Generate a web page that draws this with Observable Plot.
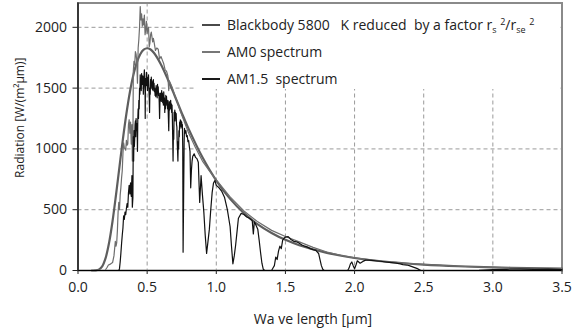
<!DOCTYPE html>
<html>
<head>
<meta charset="utf-8">
<script src="https://cdn.jsdelivr.net/npm/d3@7"></script>
<script src="https://cdn.jsdelivr.net/npm/@observablehq/plot@0.6"></script>
<style>
  body { margin: 0; background: #fff; font-family: "Open Sans", sans-serif; }
  #wrap { position: relative; width: 577px; height: 336px; overflow: hidden; }
  #legend { position: absolute; left: 195px; top: 4px; width: 364px; height: 85px; background: #fff; color: #222; font-size: 14px; }
  .row { position: absolute; left: 0; height: 20px; line-height: 20px; white-space: pre; }
  .swatch { position: absolute; left: 7px; width: 18px; }
  .lab { position: absolute; left: 32px; top: 0; }
  sub, sup { font-size: 9px; line-height: 0; }
  sub { vertical-align: -3px; }
  sup { vertical-align: 5px; }
</style>
</head>
<body>
<div id="wrap"><div id="legend"></div></div>
<script>
// ---- Data ----
// Blackbody 5800 K reduced by (rs/rse)^2, W/(m2 µm)
const bbWl  = [0.10, 0.125, 0.15, 0.175, 0.20, 0.225, 0.25, 0.275, 0.30, 0.325, 0.35, 0.375, 0.40, 0.425, 0.45, 0.475, 0.50, 0.525, 0.55, 0.60, 0.65, 0.70, 0.75, 0.80, 0.90, 1.0, 1.1, 1.2, 1.3, 1.4, 1.5, 1.6, 1.8, 2.0, 2.25, 2.5, 2.75, 3.0, 3.25, 3.5];
const bbVal = [0, 0.6, 7, 34.5, 104, 229, 407, 623, 855, 1083, 1289, 1466, 1606, 1710, 1779, 1817, 1828, 1818, 1789, 1695, 1571, 1435, 1297, 1165, 931, 740, 589, 472, 380, 309, 252, 208, 145, 103, 70, 49, 35, 26, 19.5, 15];

// AM0 spectrum
const am0Wl  = [0.20, 0.21, 0.22, 0.23, 0.24, 0.25, 0.26, 0.27, 0.275, 0.28, 0.285, 0.29, 0.295, 0.30, 0.305, 0.31, 0.315, 0.32, 0.325, 0.33, 0.335, 0.34, 0.345, 0.35, 0.355, 0.36, 0.365, 0.37, 0.375, 0.38, 0.385, 0.39, 0.393, 0.397, 0.40, 0.405, 0.41, 0.415, 0.42, 0.425, 0.43, 0.435, 0.44, 0.445, 0.45, 0.455, 0.46, 0.465, 0.47, 0.475, 0.48, 0.485, 0.49, 0.495, 0.50, 0.505, 0.51, 0.515, 0.52, 0.525, 0.53, 0.535, 0.54, 0.545, 0.55, 0.56, 0.57, 0.58, 0.59, 0.60, 0.61, 0.62, 0.63, 0.64, 0.65, 0.656, 0.66, 0.68, 0.70, 0.72, 0.74, 0.76, 0.78, 0.80, 0.85, 0.90, 0.95, 1.00, 1.10, 1.20, 1.30, 1.40, 1.50, 1.60, 1.70, 1.80, 1.90, 2.00, 2.20, 2.40, 2.60, 2.80, 3.00, 3.20, 3.50];
const am0Val = [8, 25, 45, 50, 58, 65, 120, 240, 200, 230, 330, 480, 560, 500, 620, 680, 760, 820, 960, 1050, 1010, 1000, 990, 1070, 1030, 1040, 1200, 1240, 1130, 1220, 1040, 1200, 900, 1000, 1640, 1720, 1690, 1800, 1780, 1720, 1540, 1830, 1900, 2000, 2170, 2060, 2110, 2010, 2070, 2020, 2100, 1940, 1980, 2050, 1950, 1990, 2000, 1840, 1870, 1940, 1960, 1920, 1880, 1910, 1880, 1810, 1830, 1820, 1740, 1760, 1730, 1700, 1650, 1640, 1600, 1480, 1560, 1510, 1440, 1380, 1310, 1250, 1190, 1130, 1010, 900, 820, 745, 605, 490, 400, 330, 280, 235, 190, 152, 125, 104, 75, 56, 43, 33, 26, 20, 15];

// AM1.5 spectrum
const am15Wl  = [0.295, 0.300, 0.305, 0.310, 0.315, 0.320, 0.325, 0.330, 0.335, 0.340, 0.345, 0.350, 0.355, 0.360, 0.365, 0.370, 0.375, 0.380, 0.385, 0.390, 0.393, 0.397,
  0.400, 0.4025, 0.405, 0.4075, 0.410, 0.4125, 0.415, 0.4175, 0.420, 0.4225, 0.425, 0.4275, 0.430, 0.4325, 0.435, 0.4375, 0.440, 0.4425, 0.445, 0.4475,
  0.450, 0.4525, 0.455, 0.4575, 0.460, 0.4625, 0.465, 0.4675, 0.470, 0.4725, 0.475, 0.4775, 0.480, 0.4825, 0.485, 0.4861, 0.4875, 0.490, 0.4925, 0.495, 0.4975,
  0.500, 0.5025, 0.505, 0.5075, 0.510, 0.5125, 0.515, 0.5175, 0.520, 0.5225, 0.525, 0.5275, 0.530, 0.5325, 0.535, 0.5375, 0.540, 0.5425, 0.545, 0.5475,
  0.550, 0.5525, 0.555, 0.5575, 0.560, 0.5625, 0.565, 0.5675, 0.570, 0.5725, 0.575, 0.5775, 0.580, 0.5825, 0.585, 0.5875, 0.590, 0.5925, 0.595, 0.5975,
  0.600, 0.6025, 0.605, 0.6075, 0.610, 0.6125, 0.615, 0.6175, 0.620, 0.6225, 0.625, 0.6275, 0.630, 0.6325, 0.635, 0.6375, 0.640, 0.6425, 0.645, 0.6475,
  0.650, 0.6525, 0.6563, 0.660, 0.6625, 0.665, 0.6675, 0.670, 0.6725, 0.675, 0.6775, 0.680, 0.6825, 0.6875, 0.690, 0.6925, 0.695, 0.6975,
  0.700, 0.7025, 0.705, 0.7075, 0.710, 0.7125, 0.715, 0.7175, 0.720, 0.7225, 0.725, 0.7275, 0.730, 0.7325, 0.735, 0.7375, 0.740, 0.7425, 0.745, 0.7475,
  0.750, 0.7525, 0.755, 0.7575, 0.760, 0.7625, 0.765, 0.7675, 0.770, 0.775, 0.780, 0.785, 0.790, 0.795, 0.800, 0.805, 0.810, 0.815, 0.820, 0.825, 0.830, 0.840, 0.850, 0.860, 0.870, 0.880, 0.890, 0.900, 0.910, 0.920, 0.930, 0.940, 0.950, 0.960, 0.970, 0.980, 0.990, 1.000, 1.020, 1.040, 1.060, 1.080, 1.100, 1.110, 1.120, 1.130, 1.140, 1.150, 1.160, 1.180, 1.200, 1.220, 1.240, 1.260, 1.268, 1.275, 1.280, 1.300, 1.310, 1.320, 1.330, 1.340, 1.350, 1.400, 1.410, 1.420, 1.430, 1.440, 1.450, 1.460, 1.470, 1.480, 1.490, 1.500, 1.520, 1.540, 1.560, 1.580, 1.600, 1.620, 1.640, 1.660, 1.680, 1.700, 1.720, 1.740, 1.750, 1.760, 1.770, 1.780, 1.950, 1.960, 1.970, 1.980, 1.990, 2.000, 2.010, 2.020, 2.030, 2.040, 2.060, 2.080, 2.100, 2.150, 2.200, 2.250, 2.300, 2.330, 2.350, 2.380, 2.400, 2.420, 2.450, 2.470, 2.480, 2.500, 2.900, 3.000, 3.100, 3.200, 3.300, 3.400, 3.500];
const am15Val = [0, 15, 70, 140, 220, 290, 350, 450, 420, 480, 460, 510, 550, 520, 640, 700, 630, 720, 610, 780, 520, 600,
  1100, 900, 1150, 1020, 1080, 1200, 1230, 1100, 1250, 1150, 1210, 1180, 980, 1250, 1330, 1250, 1400, 1330, 1500, 1450,
  1610, 1500, 1560, 1480, 1620, 1530, 1540, 1600, 1590, 1450, 1520, 1600, 1650, 1560, 1480, 1250, 1500, 1580, 1520, 1630, 1540,
  1560, 1480, 1590, 1530, 1610, 1500, 1420, 1300, 1500, 1450, 1570, 1500, 1590, 1530, 1560, 1490, 1520, 1480, 1570, 1500,
  1540, 1470, 1500, 1440, 1470, 1430, 1520, 1450, 1490, 1420, 1530, 1460, 1510, 1440, 1460, 1380, 1250, 1380, 1460, 1400,
  1450, 1390, 1480, 1410, 1460, 1380, 1430, 1360, 1470, 1400, 1420, 1300, 1400, 1330, 1440, 1380, 1430, 1360, 1390, 1330,
  1400, 1300, 1150, 1390, 1320, 1380, 1330, 1400, 1340, 1370, 1300, 1360, 1250, 900, 1150, 1080, 1300, 1230,
  1320, 1250, 1300, 1230, 1290, 1200, 1180, 1050, 980, 900, 1060, 1000, 1150, 1100, 1220, 1170, 1240, 1190, 1230, 1180,
  1220, 1170, 1200, 1000, 150, 450, 760, 1050, 1170, 1130, 1150, 1100, 1110, 1060, 1070, 1020, 980, 680, 820, 900, 940, 960, 930, 920, 890, 560, 780, 620, 480, 290, 140, 240, 340, 500, 640, 720, 740, 700, 680, 650, 600, 500, 360, 200, 55, 120, 210, 320, 430, 470, 460, 440, 430, 410, 300, 400, 390, 340, 250, 150, 60, 10, 0, 0, 20, 40, 110, 90, 160, 200, 180, 250, 265, 275, 278, 255, 240, 236, 225, 210, 200, 192, 180, 172, 165, 140, 90, 40, 10, 0, 0, 20, 55, 70, 40, 15, 45, 80, 70, 60, 75, 85, 86, 80, 74, 67, 60, 55, 48, 45, 38, 30, 18, 5, 0, 0, 2, 8, 10, 12, 9, 11, 8];

const xTicks = [0, 0.5, 1.0, 1.5, 2.0, 2.5, 3.0, 3.5];
const yTicks = [0, 500, 1000, 1500, 2000];
const xLabel = "Wa ve length [µm]";
const yLabel = "Radiation [W/(m²µm)]";

const legendLabels = [
  "Blackbody 5800   K reduced  by a factor r<sub>s</sub> <sup>2</sup>/r<sub>se</sub> <sup>2</sup>",
  "AM0 spectrum",
  "AM1.5  spectrum"
];
const legendColors = ["#4a4a4a", "#777777", "#1a1a1a"];
const legendWidths = [2.6, 1.2, 1.2];

// ---- Build tables ----
const bb = bbWl.map((w, i) => ({w, v: bbVal[i]}));
const am0 = am0Wl.map((w, i) => ({w, v: am0Val[i]}));
const am15 = am15Wl.map((w, i) => ({w, v: am15Val[i]}));

const grid = {stroke: "#9a9a9a", strokeOpacity: 1, strokeDasharray: "4,3", strokeWidth: 1};

const chart = Plot.plot({
  width: 577,
  height: 336,
  marginLeft: 77.5,
  marginRight: 15.5,
  marginTop: 2.5,
  marginBottom: 66,
  style: {fontFamily: "'Open Sans', sans-serif", fontSize: "14px", color: "#222", background: "#fff", overflow: "visible"},
  x: {domain: [0, 3.5]},
  y: {domain: [0, 2200]},
  marks: [
    Plot.gridX(xTicks.filter(t => t > 0 && t < 3.5), grid),
    Plot.gridY(yTicks.filter(t => t > 0), grid),
    Plot.frame({stroke: "#8a8a8a", strokeWidth: 2}),
    Plot.line(bb, {x: "w", y: "v", stroke: "#5e5e5e", strokeWidth: 2.2, curve: "catmull-rom"}),
    Plot.line(am0, {x: "w", y: "v", stroke: "#6e6e6e", strokeWidth: 1.2}),
    Plot.line(am15, {x: "w", y: "v", stroke: "#111", strokeWidth: 1.2}),
    Plot.ruleX([0], {stroke: "#000", strokeWidth: 1.2}),
    Plot.ruleY([0], {stroke: "#000", strokeWidth: 1.2}),
    Plot.axisX(xTicks, {tickSize: 4, tickPadding: 8, tickFormat: d => d.toFixed(1), label: null, fontSize: 14}),
    Plot.axisY(yTicks, {tickSize: 5, tickPadding: 6, tickFormat: d => String(d), label: null, fontSize: 14}),
    Plot.text([xLabel], {frameAnchor: "bottom", dy: 53, dx: -7, fontSize: 14, fill: "#222"}),
    Plot.text([yLabel], {frameAnchor: "left", textAnchor: "middle", rotate: -90, dx: -58, dy: -19, fontSize: 12, fill: "#222"})
  ]
});

const wrap = document.getElementById("wrap");
wrap.insertBefore(chart, wrap.firstChild);

// ---- Legend (overlay inside plot area) ----
const legend = document.getElementById("legend");
const rowCenters = [21, 48, 75];
legendLabels.forEach((lab, i) => {
  const row = document.createElement("div");
  row.className = "row";
  row.style.top = (rowCenters[i] - 10) + "px";
  row.style.width = "364px";
  const sw = document.createElement("div");
  sw.className = "swatch";
  sw.style.top = (10 - legendWidths[i] / 2) + "px";
  sw.style.height = legendWidths[i] + "px";
  sw.style.background = legendColors[i];
  const t = document.createElement("span");
  t.className = "lab";
  t.innerHTML = lab;
  row.appendChild(sw);
  row.appendChild(t);
  legend.appendChild(row);
});
</script>
</body>
</html>
